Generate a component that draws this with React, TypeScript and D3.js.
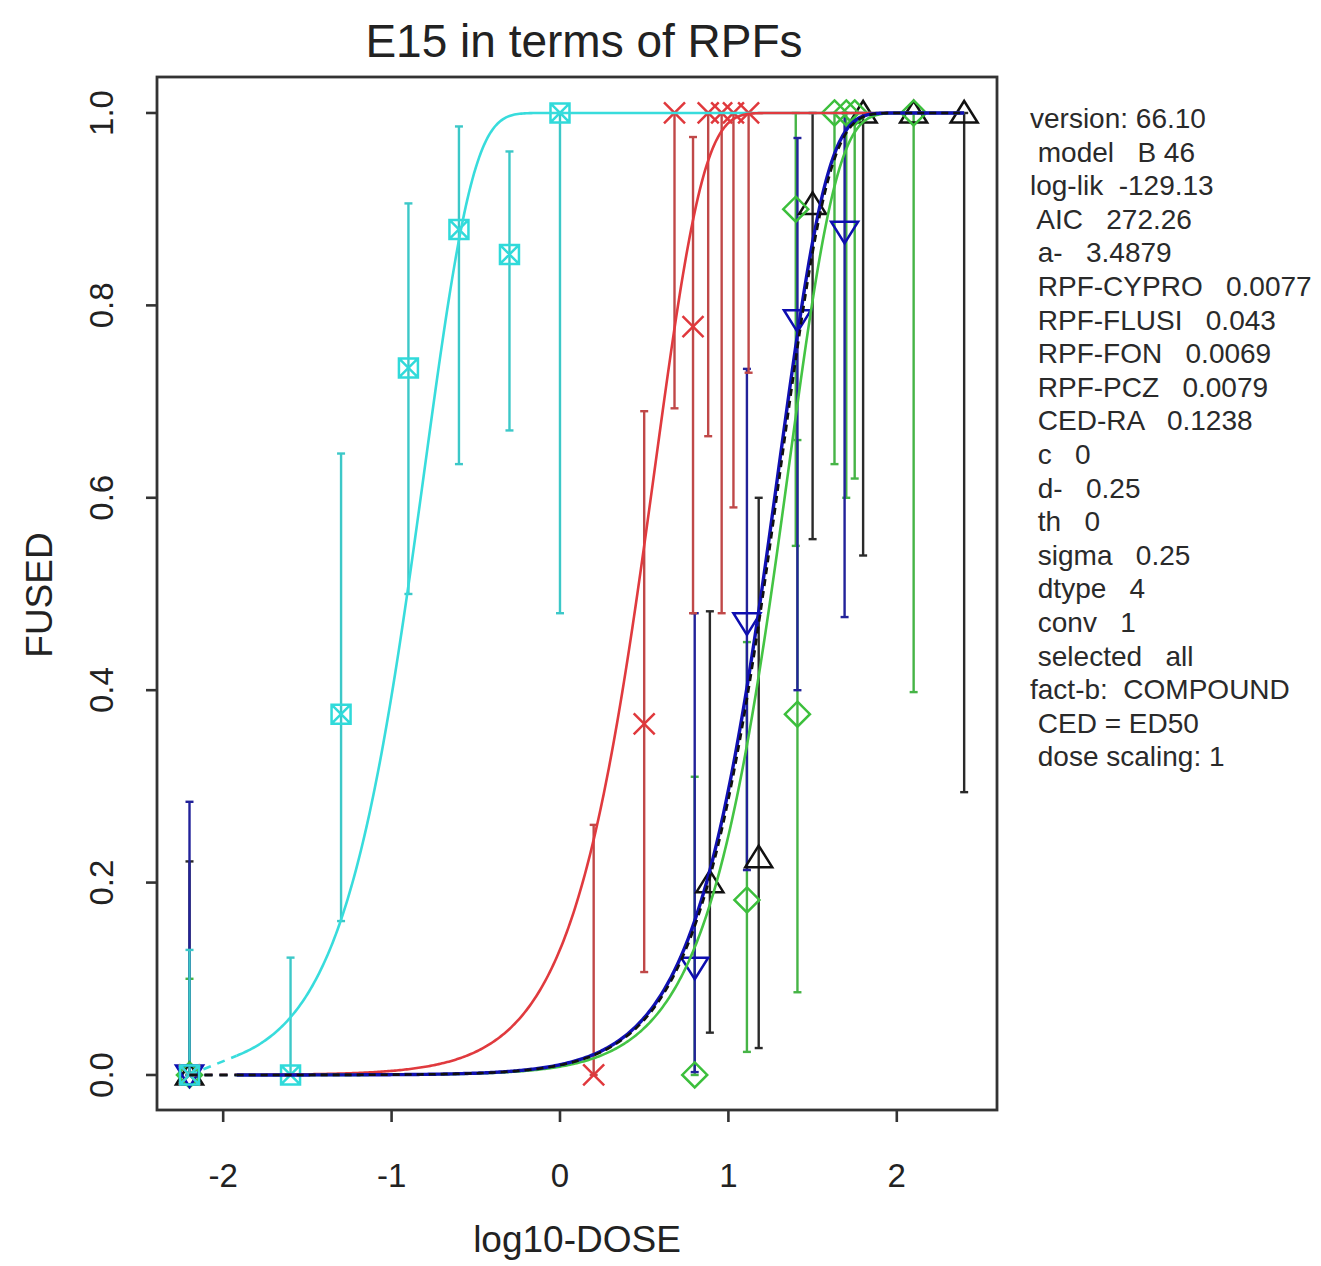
import React from 'react';
import * as d3 from 'd3';

// ---- data ----
// RA (cyan, square with cross)
const raDose = [-2.2, -1.6, -1.3, -0.9, -0.6, -0.3, 0];
const raResp = [0, 0, 0.375, 0.735, 0.879, 0.853, 1];
const raLo = [0, 0, 0.16, 0.5, 0.635, 0.67, 0.48];
const raHi = [0.13, 0.122, 0.646, 0.906, 0.986, 0.96, 1];

// FLUSI (red, x)
const flusiDose = [-2.2, 0.2, 0.5, 0.79, 0.68, 0.88, 0.96, 1.03, 1.12];
const flusiResp = [0, 0, 0.365, 0.778, 1, 1, 1, 1, 1];
const flusiLo = [0, 0, 0.107, 0.48, 0.693, 0.664, 0.48, 0.59, 0.73];
const flusiHi = [0, 0.26, 0.69, 0.975, 1, 1, 1, 1, 1];

// CYPRO (black, up triangle)
const cyproDose = [-2.2, 0.89, 1.18, 1.5, 1.8, 2.1, 2.4];
const cyproResp = [0, 0.2, 0.226, 0.905, 1, 1, 1];
const cyproLo = [0, 0.044, 0.028, 0.557, 0.54, 1, 0.294];
const cyproHi = [0.222, 0.482, 0.6, 1, 1, 1, 1];

// PCZ (blue, down triangle)
const pczDose = [-2.2, 0.8, 1.11, 1.41, 1.69];
const pczResp = [0, 0.112, 0.47, 0.785, 0.877];
const pczLo = [0, 0.003, 0.213, 0.4, 0.476];
const pczHi = [0.284, 0.48, 0.734, 0.974, 1];

// FON (green, diamond)
const fonDose = [-2.2, 0.8, 1.11, 1.41, 1.4, 1.63, 1.7, 1.75, 2.1];
const fonResp = [0, 0, 0.182, 0.375, 0.9, 1, 1, 1, 1];
const fonLo = [0, 0, 0.024, 0.086, 0.55, 0.635, 0.6, 0.62, 0.398];
const fonHi = [0.1, 0.31, 0.45, 0.66, 1, 1, 1, 1, 1];

// fitted model parameters (from the text panel)
const cedRA = 0.1238;
const compounds = ['RA', 'FLUSI', 'CYPRO', 'PCZ', 'FON'];
const rpf = [1, 0.043, 0.0077, 0.0079, 0.0069];
const fittedSlope = 3.4879;
const curveStart = -1.92;
const curveEnd = 2.4;

const xTicks = [-2, -1, 0, 1, 2];
const yTicks = [0, 0.2, 0.4, 0.6, 0.8, 1.0];

const infoLines = [
  'version: 66.10',
  ' model   B 46',
  'log-lik  -129.13',
  ' AIC   272.26',
  ' a-   3.4879',
  ' RPF-CYPRO   0.0077',
  ' RPF-FLUSI   0.043',
  ' RPF-FON   0.0069',
  ' RPF-PCZ   0.0079',
  ' CED-RA   0.1238',
  ' c   0',
  ' d-   0.25',
  ' th   0',
  ' sigma   0.25',
  ' dtype   4',
  ' conv   1',
  ' selected   all',
  'fact-b:  COMPOUND',
  ' CED = ED50',
  ' dose scaling: 1',
];

const FONT = '"Liberation Sans", Arial, Helvetica, sans-serif';

type Series = {
  name: string;
  dose: number[];
  resp: number[];
  lo: number[];
  hi: number[];
  color: string;
  barColor: string;
  marker: 'sqx' | 'x' | 'tri' | 'dtri' | 'diam';
};

const series: Series[] = [
  { name: 'CYPRO', dose: cyproDose, resp: cyproResp, lo: cyproLo, hi: cyproHi, color: '#111111', barColor: '#2a2a2a', marker: 'tri' },
  { name: 'FON', dose: fonDose, resp: fonResp, lo: fonLo, hi: fonHi, color: '#3cbf3c', barColor: '#46b446', marker: 'diam' },
  { name: 'PCZ', dose: pczDose, resp: pczResp, lo: pczLo, hi: pczHi, color: '#0d0db0', barColor: '#22229a', marker: 'dtri' },
  { name: 'FLUSI', dose: flusiDose, resp: flusiResp, lo: flusiLo, hi: flusiHi, color: '#e0383c', barColor: '#c04848', marker: 'x' },
  { name: 'RA', dose: raDose, resp: raResp, lo: raLo, hi: raHi, color: '#30dada', barColor: '#3cc8c8', marker: 'sqx' },
];

const curveColors: Record<string, string> = {
  RA: '#38dcdc',
  FLUSI: '#e03a3e',
  CYPRO: '#111111',
  PCZ: '#1010b4',
  FON: '#44c444',
};

function markerPath(kind: Series['marker'], cx: number, cy: number): string {
  if (kind === 'sqx') {
    const s = 9.5;
    return `M${cx - s},${cy - s}H${cx + s}V${cy + s}H${cx - s}Z M${cx - s},${cy - s}L${cx + s},${cy + s} M${cx + s},${cy - s}L${cx - s},${cy + s}`;
  }
  if (kind === 'x') {
    const s = 10.5;
    return `M${cx - s},${cy - s}L${cx + s},${cy + s} M${cx + s},${cy - s}L${cx - s},${cy + s}`;
  }
  if (kind === 'tri') {
    const h = 12;
    const w = 13.5;
    return `M${cx},${cy - h}L${cx + w},${cy + h * 0.8}L${cx - w},${cy + h * 0.8}Z`;
  }
  if (kind === 'dtri') {
    const h = 12;
    const w = 13.5;
    return `M${cx},${cy + h}L${cx + w},${cy - h * 0.8}L${cx - w},${cy - h * 0.8}Z`;
  }
  const s = 12.5;
  return `M${cx},${cy - s}L${cx + s},${cy}L${cx},${cy + s}L${cx - s},${cy}Z`;
}

export default function App() {
  const W = 1321;
  const H = 1266;
  const left = 157;
  const right = 997;
  const top = 77;
  const bottom = 1110;

  const x = d3.scaleLinear().domain([-2.393, 2.595]).range([left, right]);
  const y = d3.scaleLinear().domain([-0.0364, 1.0374]).range([bottom, top]);

  const model = (d: number, m: number) =>
    1 - Math.exp(-Math.exp(Math.log(Math.LN2) + fittedSlope * (d - m)));

  const grid = d3.range(curveStart, curveEnd + 0.0001, 0.01);
  const line = d3
    .line<[number, number]>()
    .x((p) => x(p[0]))
    .y((p) => y(p[1]));

  const curves = compounds.map((c, i) => {
    const m = Math.log10(cedRA / rpf[i]);
    const pts: [number, number][] = grid.map((g) => [g, model(g, m)]);
    const lead: [number, number][] = [
      [-2.2, 0],
      [curveStart, model(curveStart, m)],
    ];
    return { name: c, pts, lead };
  });

  const curveOrder = ['RA', 'FLUSI', 'FON', 'PCZ', 'CYPRO'];

  return (
    <svg
      width={W}
      height={H}
      style={{ position: 'absolute', left: 0, top: 0, background: '#fff' }}
      fontFamily={FONT}
    >
      <rect x={0} y={0} width={W} height={H} fill="#fff" />
      <defs>
        <clipPath id="plotclip">
          <rect x={left} y={top} width={right - left} height={bottom - top} />
        </clipPath>
      </defs>

      {/* title */}
      <text x={584} y={57} fontSize={46} textAnchor="middle" fill="#222">
        E15 in terms of RPFs
      </text>

      <g clipPath="url(#plotclip)">
        {/* error bars */}
        {series.map((s) =>
          s.dose.map((d, i) => {
            if (s.hi[i] - s.lo[i] < 0.001) return null;
            const px = x(d);
            return (
              <g key={s.name + 'b' + i} stroke={s.barColor} strokeWidth={2.4}>
                <line x1={px} x2={px} y1={y(s.lo[i])} y2={y(s.hi[i])} />
                <line x1={px - 4} x2={px + 4} y1={y(s.lo[i])} y2={y(s.lo[i])} />
                <line x1={px - 4} x2={px + 4} y1={y(s.hi[i])} y2={y(s.hi[i])} />
              </g>
            );
          })
        )}

        {/* markers */}
        {series.map((s) =>
          s.dose.map((d, i) => (
            <path
              key={s.name + 'm' + i}
              d={markerPath(s.marker, x(d), y(s.resp[i]))}
              fill="none"
              stroke={s.color}
              strokeWidth={2.5}
            />
          ))
        )}

        {/* fitted curves */}
        {curveOrder.map((name) => {
          const c = curves.find((k) => k.name === name)!;
          const col = curveColors[name];
          const dashed = name === 'CYPRO';
          return (
            <g key={'c' + name}>
              <path
                d={line(c.lead) || ''}
                fill="none"
                stroke={col}
                strokeWidth={2.6}
                strokeDasharray="8,7"
              />
              <path
                d={line(c.pts) || ''}
                fill="none"
                stroke={col}
                strokeWidth={name === 'PCZ' ? 3.4 : 2.6}
                strokeDasharray={dashed ? '7,5' : undefined}
              />
            </g>
          );
        })}
      </g>

      {/* box */}
      <rect
        x={left}
        y={top}
        width={right - left}
        height={bottom - top}
        fill="none"
        stroke="#333"
        strokeWidth={2.8}
      />

      {/* x axis */}
      {xTicks.map((t) => (
        <g key={'xt' + t}>
          <line x1={x(t)} x2={x(t)} y1={bottom} y2={bottom + 12} stroke="#333" strokeWidth={2.6} />
          <text x={x(t)} y={1187} fontSize={33} textAnchor="middle" fill="#222">
            {t}
          </text>
        </g>
      ))}
      <text x={577} y={1252} fontSize={37} textAnchor="middle" fill="#222">
        log10-DOSE
      </text>

      {/* y axis */}
      {yTicks.map((t) => (
        <g key={'yt' + t}>
          <line x1={left - 11} x2={left} y1={y(t)} y2={y(t)} stroke="#333" strokeWidth={2.6} />
          <text
            x={113}
            y={y(t)}
            fontSize={33}
            textAnchor="middle"
            fill="#222"
            transform={`rotate(-90, 113, ${y(t)})`}
          >
            {t.toFixed(1)}
          </text>
        </g>
      ))}
      <text
        x={52}
        y={595}
        fontSize={37}
        textAnchor="middle"
        fill="#222"
        transform="rotate(-90, 52, 595)"
      >
        FUSED
      </text>

      {/* info panel */}
      {infoLines.map((l, i) => (
        <text
          key={'info' + i}
          x={1030}
          y={128 + i * 33.6}
          fontSize={28}
          fill="#2a2a2a"
          style={{ whiteSpace: 'pre' }}
        >
          {l}
        </text>
      ))}
    </svg>
  );
}
